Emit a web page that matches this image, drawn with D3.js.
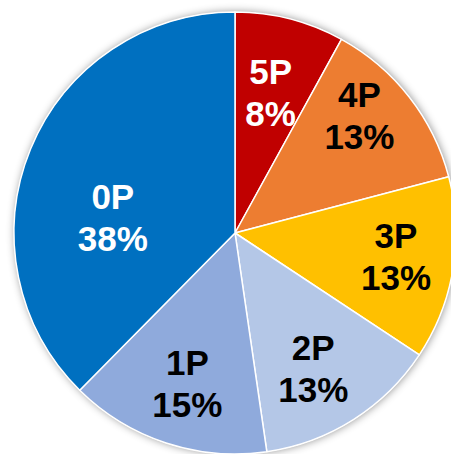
<!DOCTYPE html>
<html>
<head>
<meta charset="utf-8">
<script src="https://cdn.jsdelivr.net/npm/d3@7"></script>
<style>
  html, body { margin: 0; padding: 0; background: #fff; }
  svg { display: block; }
</style>
</head>
<body>
<div id="chart"></div>
<script>
// slice shares, clockwise from 12 o'clock
const categories = ['5P', '4P', '3P', '2P', '1P', '0P']
const values = [8.0, 12.9, 13.4, 13.4, 14.7, 37.6]

const colors = ['#C00000', '#ED7D31', '#FFC000', '#B4C7E7', '#8FAADC', '#0070C0']
const labelColors = ['#fff', '#000', '#000', '#000', '#000', '#fff']
// hand placed labels (like excel's dragged data labels)
const labelNudge = { '5P': [-4, 14], '4P': [-1, -20], '3P': [4, -2], '2P': [-7, 1], '1P': [2, -1], '0P': [25, 45] }

const width = 451
const height = 454
const cx = 235, cy = 233
const radius = 221

const svg = d3.select('#chart')
  .append('svg')
  .attr('width', width)
  .attr('height', height)

const defs = svg.append('defs')
const shadow = defs.append('filter')
  .attr('id', 'shadow')
  .attr('x', '-10%').attr('y', '-10%')
  .attr('width', '120%').attr('height', '120%')
shadow.append('feDropShadow')
  .attr('dx', 1).attr('dy', 0)
  .attr('stdDeviation', 4)
  .attr('flood-color', '#000')
  .attr('flood-opacity', 0.45)

const data = categories.map((c, i) => ({ name: c, value: values[i], color: colors[i], label: labelColors[i] }))
const total = d3.sum(values)

const pie = d3.pie()
  .value(d => d.value)
  .sort(null)

const arc = d3.arc()
  .innerRadius(0)
  .outerRadius(radius)

const labelArc = d3.arc()
  .innerRadius(radius * 0.72)
  .outerRadius(radius * 0.72)

const g = svg.append('g')
  .attr('transform', `translate(${cx},${cy})`)

// shadow disc behind the slices
g.append('circle')
  .attr('r', radius)
  .attr('fill', '#fff')
  .attr('filter', 'url(#shadow)')

const arcs = pie(data)

g.selectAll('path')
  .data(arcs)
  .enter()
  .append('path')
  .attr('d', arc)
  .attr('fill', d => d.data.color)
  .attr('stroke', '#fff')
  .attr('stroke-width', 1.5)
  .attr('stroke-linejoin', 'round')

const fontSize = 35
const lineGap = 42
const capH = fontSize * 0.716

const labels = g.selectAll('text.lbl')
  .data(arcs)
  .enter()
  .append('text')
  .attr('class', 'lbl')
  .attr('text-anchor', 'middle')
  .style('font-family', '"Liberation Sans", Arial, sans-serif')
  .style('font-weight', 'bold')
  .style('font-size', fontSize + 'px')
  .attr('fill', d => d.data.label)
  .attr('transform', d => {
    const [x, y] = labelArc.centroid(d)
    const n = labelNudge[d.data.name]
    return `translate(${x + n[0]},${y + n[1]})`
  })

const firstBase = -(lineGap + capH) / 2 + capH

labels.append('tspan')
  .attr('x', 0)
  .attr('y', firstBase)
  .text(d => d.data.name)

labels.append('tspan')
  .attr('x', 0)
  .attr('y', firstBase + lineGap)
  .text(d => Math.round(d.data.value / total * 100) + '%')
</script>
</body>
</html>
